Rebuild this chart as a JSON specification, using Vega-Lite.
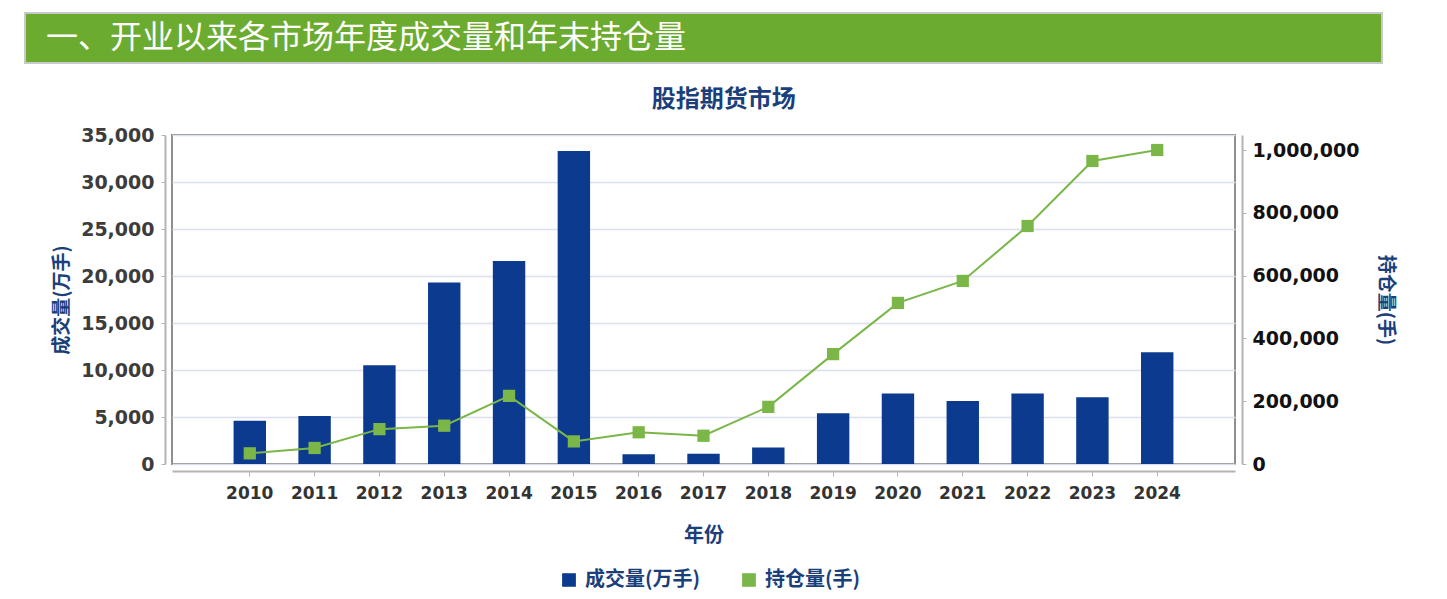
{
  "$schema": "https://vega.github.io/schema/vega-lite/v6.json",
  "background": "white",
  "padding": {"left": 24, "top": 12, "right": 12, "bottom": 50},
  "center": true,
  "bounds": "flush",
  "spacing": 72,
  "datasets": {
    "volume": [
      {"year": "2010", "volume": 4600},
      {"year": "2011", "volume": 5100},
      {"year": "2012", "volume": 10500},
      {"year": "2013", "volume": 19300},
      {"year": "2014", "volume": 21600},
      {"year": "2015", "volume": 33300},
      {"year": "2016", "volume": 1050},
      {"year": "2017", "volume": 1100},
      {"year": "2018", "volume": 1750},
      {"year": "2019", "volume": 5400},
      {"year": "2020", "volume": 7500},
      {"year": "2021", "volume": 6700},
      {"year": "2022", "volume": 7500},
      {"year": "2023", "volume": 7100},
      {"year": "2024", "volume": 11900}
    ],
    "openInterest": [
      {"year": "2010", "oi": 34000},
      {"year": "2011", "oi": 51000},
      {"year": "2012", "oi": 111000},
      {"year": "2013", "oi": 122000},
      {"year": "2014", "oi": 217000},
      {"year": "2015", "oi": 72000},
      {"year": "2016", "oi": 101000},
      {"year": "2017", "oi": 90000},
      {"year": "2018", "oi": 182000},
      {"year": "2019", "oi": 350000},
      {"year": "2020", "oi": 513000},
      {"year": "2021", "oi": 583000},
      {"year": "2022", "oi": 758000},
      {"year": "2023", "oi": 965000},
      {"year": "2024", "oi": 1000000}
    ]
  },
  "vconcat": [
    {
      "width": 1357,
      "height": 50,
      "view": {"stroke": null},
      "data": {"values": [{"label": "一、开业以来各市场年度成交量和年末持仓量"}]},
      "layer": [
        {
          "mark": {"type": "rect", "fill": "#6bab2f", "stroke": "#c9c9c9", "strokeWidth": 2}
        },
        {
          "mark": {
            "type": "text",
            "align": "left",
            "baseline": "middle",
            "font": "Noto Sans CJK SC",
            "fontSize": 32,
            "fontWeight": "normal",
            "color": "white"
          },
          "encoding": {
            "text": {"field": "label"},
            "x": {"value": 21},
            "y": {"value": 25}
          }
        }
      ]
    },
    {
      "width": 1063,
      "height": 329,
      "title": {
        "text": "股指期货市场",
        "anchor": "middle",
        "frame": "bounds",
        "offset": 14,
        "font": "Noto Sans CJK SC",
        "fontSize": 24,
        "fontWeight": "bold",
        "color": "#1b3f7a"
      },
      "layer": [
        {
          "data": {"name": "volume"},
          "mark": {"type": "bar", "width": {"band": 1}},
          "encoding": {
            "x": {
              "field": "year",
              "type": "nominal",
              "sort": null,
              "scale": {"paddingInner": 0.5, "paddingOuter": 0.95},
              "axis": {
                "title": "年份",
                "offset": 7,
                "labelAngle": 0,
                "labelFont": "DejaVu Sans",
                "labelFontSize": 17,
                "labelFontWeight": "bold",
                "labelColor": "#333333",
                "labelPadding": 9,
                "tickSize": 5,
                "titlePadding": 24,
                "titleFontSize": 20
              }
            },
            "y": {
              "field": "volume",
              "type": "quantitative",
              "scale": {"domain": [0, 35000], "nice": false},
              "axis": {
                "title": "成交量(万手)",
                "orient": "left",
                "offset": 7,
                "values": [0, 5000, 10000, 15000, 20000, 25000, 30000, 35000],
                "format": ",d",
                "grid": true,
                "gridColor": "#dcdff0",
                "gridWidth": 1.5,
                "labelColor": "#3c3c3c",
                "labelPadding": 7,
                "titlePadding": 9
              }
            },
            "color": {
              "datum": "成交量(万手)",
              "legend": {"orient": "none", "legendX": 534, "legendY": 557, "direction": "horizontal"}
            }
          }
        },
        {
          "data": {"name": "openInterest"},
          "mark": {
            "type": "line",
            "strokeWidth": 2,
            "point": {"shape": "square", "size": 150, "filled": true, "opacity": 1}
          },
          "encoding": {
            "x": {"field": "year", "type": "nominal", "sort": null},
            "y": {
              "field": "oi",
              "type": "quantitative",
              "scale": {"domain": [0, 1047800], "nice": false},
              "axis": {
                "title": "持仓量(手)",
                "orient": "right",
                "offset": 7,
                "values": [0, 200000, 400000, 600000, 800000, 1000000],
                "format": ",d",
                "grid": false,
                "labelColor": "#111111",
                "labelPadding": 6,
                "titleAngle": 90,
                "titlePadding": 17
              }
            },
            "color": {"datum": "持仓量(手)"}
          }
        }
      ],
      "resolve": {"scale": {"y": "independent"}}
    }
  ],
  "config": {
    "font": "Noto Sans CJK SC",
    "view": {"stroke": "#8f8f8f", "strokeWidth": 2},
    "axis": {
      "domainColor": "#b4b4b4",
      "domainWidth": 2,
      "tickColor": "#b4b4b4",
      "tickSize": 4,
      "labelFont": "DejaVu Sans",
      "labelFontSize": 19,
      "labelFontWeight": "bold",
      "titleFont": "Noto Sans CJK SC",
      "titleFontSize": 19,
      "titleFontWeight": "bold",
      "titleColor": "#1b3f7a"
    },
    "range": {"category": ["#0b3a8e", "#7ab648"]},
    "legend": {
      "title": null,
      "padding": 0,
      "labelFont": "Noto Sans CJK SC",
      "labelFontSize": 20,
      "labelFontWeight": "bold",
      "labelColor": "#1b3f7a",
      "labelOffset": 6,
      "symbolType": "square",
      "symbolSize": 150,
      "symbolOpacity": 1,
      "columnPadding": 38
    }
  }
}
